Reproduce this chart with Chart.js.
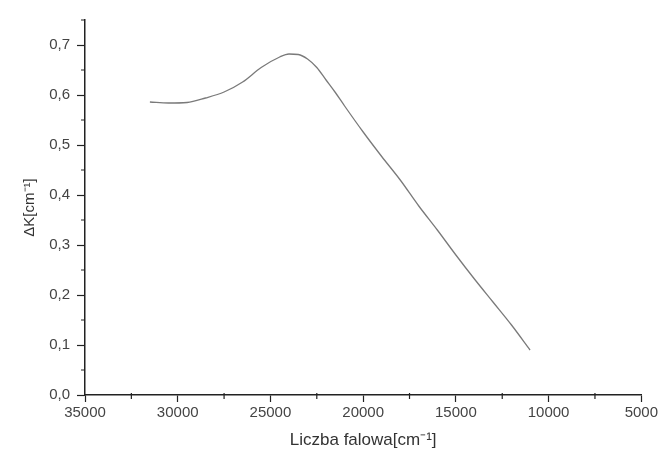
<!DOCTYPE html>
<html>
<head>
<meta charset="utf-8">
<script src="https://cdn.jsdelivr.net/npm/chart.js@4/dist/chart.umd.min.js"></script>
<style>
    body { margin: 0; background: #fff; }
    .chart_box { width: 660px; height: 453px; }
</style>
</head>
<body>
<div class="chart_box"><canvas id="myChart" width="660" height="453"></canvas></div>
<script>
// wavenumber [cm-1] and absorption change
const wavenumbers = [31500, 30500, 29500, 28500, 27500, 26500, 25500, 24500, 24000, 23500, 23000, 22500, 22000, 21500, 21000, 20000, 19000, 18000, 17000, 16000, 15000, 14000, 13000, 12000, 11000];
const deltaK = [0.586, 0.584, 0.585, 0.594, 0.606, 0.626, 0.655, 0.676, 0.682, 0.681, 0.672, 0.655, 0.630, 0.605, 0.578, 0.526, 0.477, 0.430, 0.378, 0.330, 0.280, 0.232, 0.186, 0.140, 0.090];

const xTitle = 'Liczba falowa[cm⁻¹]';
const yTitle = 'ΔK[cm⁻¹]';
const axisColor = '#222';
const labelColor = '#444';

const isMajorX = v => v % 5000 === 0;
const isMajorY = v => Math.round(v * 100) % 10 === 0;

// short ticks between the labelled ones
const minorTicks = {
    id: 'minorTicks',
    afterDraw(chart) {
        const ctx = chart.ctx;
        const x = chart.scales.x;
        const y = chart.scales.y;
        ctx.save();
        ctx.strokeStyle = axisColor;
        ctx.lineWidth = 1.2;
        ctx.beginPath();
        x.ticks.forEach(t => {
            if (!isMajorX(t.value)) {
                const px = x.getPixelForValue(t.value);
                ctx.moveTo(px, x.top - 2);
                ctx.lineTo(px, x.top + 4);
            }
        });
        y.ticks.forEach(t => {
            if (!isMajorY(t.value)) {
                const py = y.getPixelForValue(t.value);
                ctx.moveTo(y.right, py);
                ctx.lineTo(y.right - 4, py);
            }
        });
        ctx.stroke();
        ctx.restore();
    }
};

const ctx = document.getElementById('myChart').getContext('2d');
const myChart = new Chart(ctx, {
    type: 'line',
    data: {
        labels: wavenumbers,
        datasets: [{
            data: wavenumbers.map((w, i) => ({x: w, y: deltaK[i]})),
            borderColor: '#7a7a7a',
            borderWidth: 1.3,
            pointRadius: 0,
            fill: false,
            cubicInterpolationMode: 'monotone'
        }]
    },
    options: {
        responsive: false,
        animation: false,
        layout: {padding: {top: 20, right: 18, left: 0, bottom: 0}},
        plugins: {legend: {display: false}, tooltip: {enabled: false}},
        scales: {
            x: {
                type: 'linear',
                reverse: true,
                min: 5000,
                max: 35000,
                afterFit: s => { s.height = 58; },
                border: {color: axisColor, width: 1.5},
                grid: {
                    drawOnChartArea: false,
                    tickLength: 7,
                    tickWidth: 1.2,
                    tickColor: c => isMajorX(c.tick.value) ? axisColor : 'rgba(0,0,0,0)'
                },
                ticks: {
                    stepSize: 2500,
                    autoSkip: false,
                    maxRotation: 0,
                    padding: 2,
                    color: labelColor,
                    font: {family: 'Liberation Sans, Arial', size: 15},
                    callback: v => isMajorX(v) ? String(v) : ''
                },
                title: {
                    display: true,
                    text: xTitle,
                    color: '#333',
                    font: {family: 'Liberation Sans, Arial', size: 17},
                    padding: {top: 0, bottom: 2}
                }
            },
            y: {
                min: 0,
                max: 0.75,
                afterFit: s => { s.width = 85; },
                border: {color: axisColor, width: 1.5},
                grid: {
                    drawOnChartArea: false,
                    tickLength: 8,
                    tickWidth: 1.2,
                    tickColor: c => isMajorY(c.tick.value) ? axisColor : 'rgba(0,0,0,0)'
                },
                ticks: {
                    stepSize: 0.05,
                    autoSkip: false,
                    padding: 7,
                    color: labelColor,
                    font: {family: 'Liberation Sans, Arial', size: 15},
                    callback: v => isMajorY(v) ? v.toFixed(1).replace('.', ',') : ''
                },
                title: {
                    display: true,
                    text: yTitle,
                    color: '#333',
                    font: {family: 'Liberation Sans, Arial', size: 15},
                    padding: {top: 21, bottom: 0}
                }
            }
        }
    },
    plugins: [minorTicks]
});
</script>
</body>
</html>
